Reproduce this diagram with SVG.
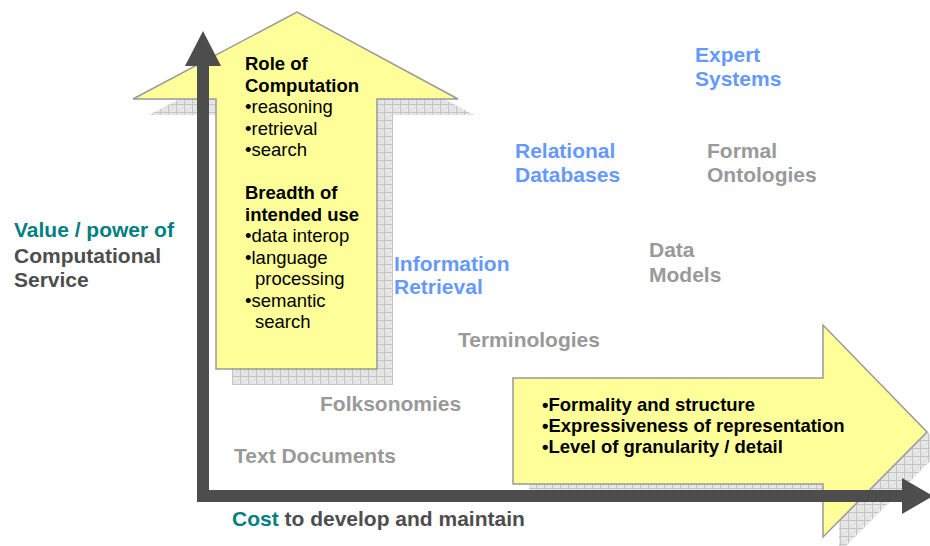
<svg xmlns="http://www.w3.org/2000/svg" width="930" height="546" viewBox="0 0 930 546">
<defs>
<pattern id="grid" width="8" height="8" patternUnits="userSpaceOnUse">
<rect width="8" height="8" fill="#e6e6e6"/>
<path d="M0 0.5H8M0.5 0V8" stroke="#c4c4c4" stroke-width="1"/>
<rect x="4" y="4" width="1" height="1" fill="#d0d0d0"/>
<rect x="2" y="6" width="1" height="1" fill="#d0d0d0"/>
<rect x="6" y="2" width="1" height="1" fill="#d0d0d0"/>
</pattern>
<style>
.arrow{fill:#ffff99;stroke:#999999;stroke-width:1.5}
.shadow{fill:url(#grid)}
.axis{fill:#4d4d4d}
.t{font-family:"Liberation Sans",Arial,sans-serif;font-size:18.5px;fill:#000}
.b{font-weight:bold}
.lab{font-family:"Liberation Sans",Arial,sans-serif;font-size:21px;font-weight:bold}
.blue{fill:#6699ff}
.gray{fill:#999999}
.teal{fill:#008080}
.dark{fill:#4d4d4d}
</style>
</defs>
<rect width="930" height="546" fill="#ffffff"/>

<g id="up-arrow">
<polygon class="shadow" points="232,385 232,115 149,115 313,28 474,115 393,115 393,385"/>
<polygon class="arrow" points="216,369 216,99 133,99 297,12 458,99 377,99 377,369"/>
</g>

<g id="right-arrow">
<polygon class="shadow" points="529,394 839,394 839,341 943,448 839,553 839,500 529,500"/>
<polygon class="arrow" points="513,378 823,378 823,325 927,432 823,537 823,484 513,484"/>
</g>

<g id="axes">
<path class="axis" d="M197,60 H209 V490 H905 V502 H197 Z"/>
<polygon class="axis" points="185,66 203,31 221,66"/>
<polygon class="axis" points="902,478 933,496 902,514"/>
</g>

<g id="up-arrow-text">
<text class="t b" x="245" y="70">Role of</text>
<text class="t b" x="245" y="92">Computation</text>
<text class="t" x="245" y="113">•reasoning</text>
<text class="t" x="245" y="135">•retrieval</text>
<text class="t" x="245" y="156">•search</text>
<text class="t b" x="245" y="199">Breadth of</text>
<text class="t b" x="245" y="221">intended use</text>
<text class="t" x="245" y="242">•data interop</text>
<text class="t" x="245" y="264">•language</text>
<text class="t" x="255" y="285">processing</text>
<text class="t" x="245" y="307">•semantic</text>
<text class="t" x="255" y="328">search</text>
</g>

<g id="right-arrow-text">
<text class="t b" x="542" y="411">•Formality and structure</text>
<text class="t b" x="542" y="432">•Expressiveness of representation</text>
<text class="t b" x="542" y="453">•Level of granularity / detail</text>
</g>

<g id="expert-systems"><text class="lab blue" x="695" y="62">Expert</text><text class="lab blue" x="695" y="86">Systems</text></g>
<g id="relational-databases"><text class="lab blue" x="515" y="158">Relational</text><text class="lab blue" x="515" y="182">Databases</text></g>
<g id="formal-ontologies"><text class="lab gray" x="707" y="158">Formal</text><text class="lab gray" x="707" y="182">Ontologies</text></g>
<g id="information-retrieval"><text class="lab blue" x="394" y="271">Information</text><text class="lab blue" x="394" y="294">Retrieval</text></g>
<g id="data-models"><text class="lab gray" x="649" y="257">Data</text><text class="lab gray" x="649" y="282">Models</text></g>
<g id="terminologies"><text class="lab gray" x="458" y="347">Terminologies</text></g>
<g id="folksonomies"><text class="lab gray" x="320" y="411">Folksonomies</text></g>
<g id="text-documents"><text class="lab gray" x="234" y="463">Text Documents</text></g>

<g id="y-label">
<text class="lab teal" x="14" y="237">Value / power of</text>
<text class="lab dark" x="14" y="263">Computational</text>
<text class="lab dark" x="14" y="287">Service</text>
</g>
<g id="x-label">
<text class="lab dark" x="232" y="526"><tspan class="teal">Cost</tspan> to develop and maintain</text>
</g>
</svg>
